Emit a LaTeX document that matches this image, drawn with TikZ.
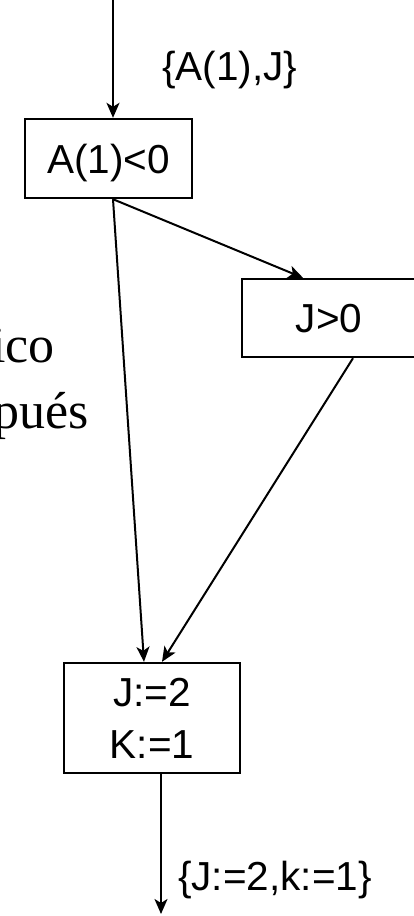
\documentclass[tikz,border=0pt]{standalone}
\usepackage{fontspec}
\setmainfont{Liberation Sans}
\newfontfamily\serifbg{Liberation Serif}
\usetikzlibrary{arrows.meta}
\begin{document}
\begin{tikzpicture}[x=1pt,y=-1pt,
  box/.style={draw,line width=2.4pt,inner sep=0pt,align=center,font=\fontsize{40.5}{52}\selectfont},
  arr/.style={line width=2pt,-{Stealth[length=15pt,width=13pt,inset=4pt]}},
  lbl/.style={font=\fontsize{40.5}{48}\selectfont,inner sep=0pt},
  bgtext/.style={font=\serifbg\fontsize{52}{60}\selectfont,inner sep=0pt}]
\useasboundingbox (0,0) rectangle (414,916);
\fill[white] (0,0) rectangle (414,916);
% background text fragments
\node[bgtext,anchor=base east] (t1) at (55,362) {ico};
\node[bgtext,anchor=base east] (t2) at (89,428) {pués};
% boxes
\node[box,minimum width=167pt,minimum height=79pt,text height=29pt,text depth=0pt] (a) at (108.5,158.5) {A(1)<0};
\node[box,minimum width=174pt,minimum height=78pt,text height=29pt,text depth=0pt] (b) at (329,318) {J>0};
\node[box,minimum width=176pt,minimum height=110pt] (c) at (152,718) {J:=2\\K:=1};
% free ends
\coordinate (top) at (113,0);
\coordinate (bot) at (161,914);
% connectors
\draw[arr] (top) -- ([xshift=4.5pt]a.north);
\draw[arr] ([xshift=4.5pt]a.south) -- ([xshift=-8pt]c.north);
\draw[arr] ([xshift=4.5pt]a.south) -- ([xshift=-26pt]b.north);
\draw[arr] ([xshift=24pt]b.south) -- ([xshift=10pt]c.north);
\draw[arr] ([xshift=9pt]c.south) -- (bot);
% labels
\node[lbl,anchor=base west] (l1) at (162,80) {\{A(1),J\}};
\node[lbl,anchor=base west] (l2) at (178,890) {\{J:=2,k:=1\}};
\end{tikzpicture}
\end{document}
